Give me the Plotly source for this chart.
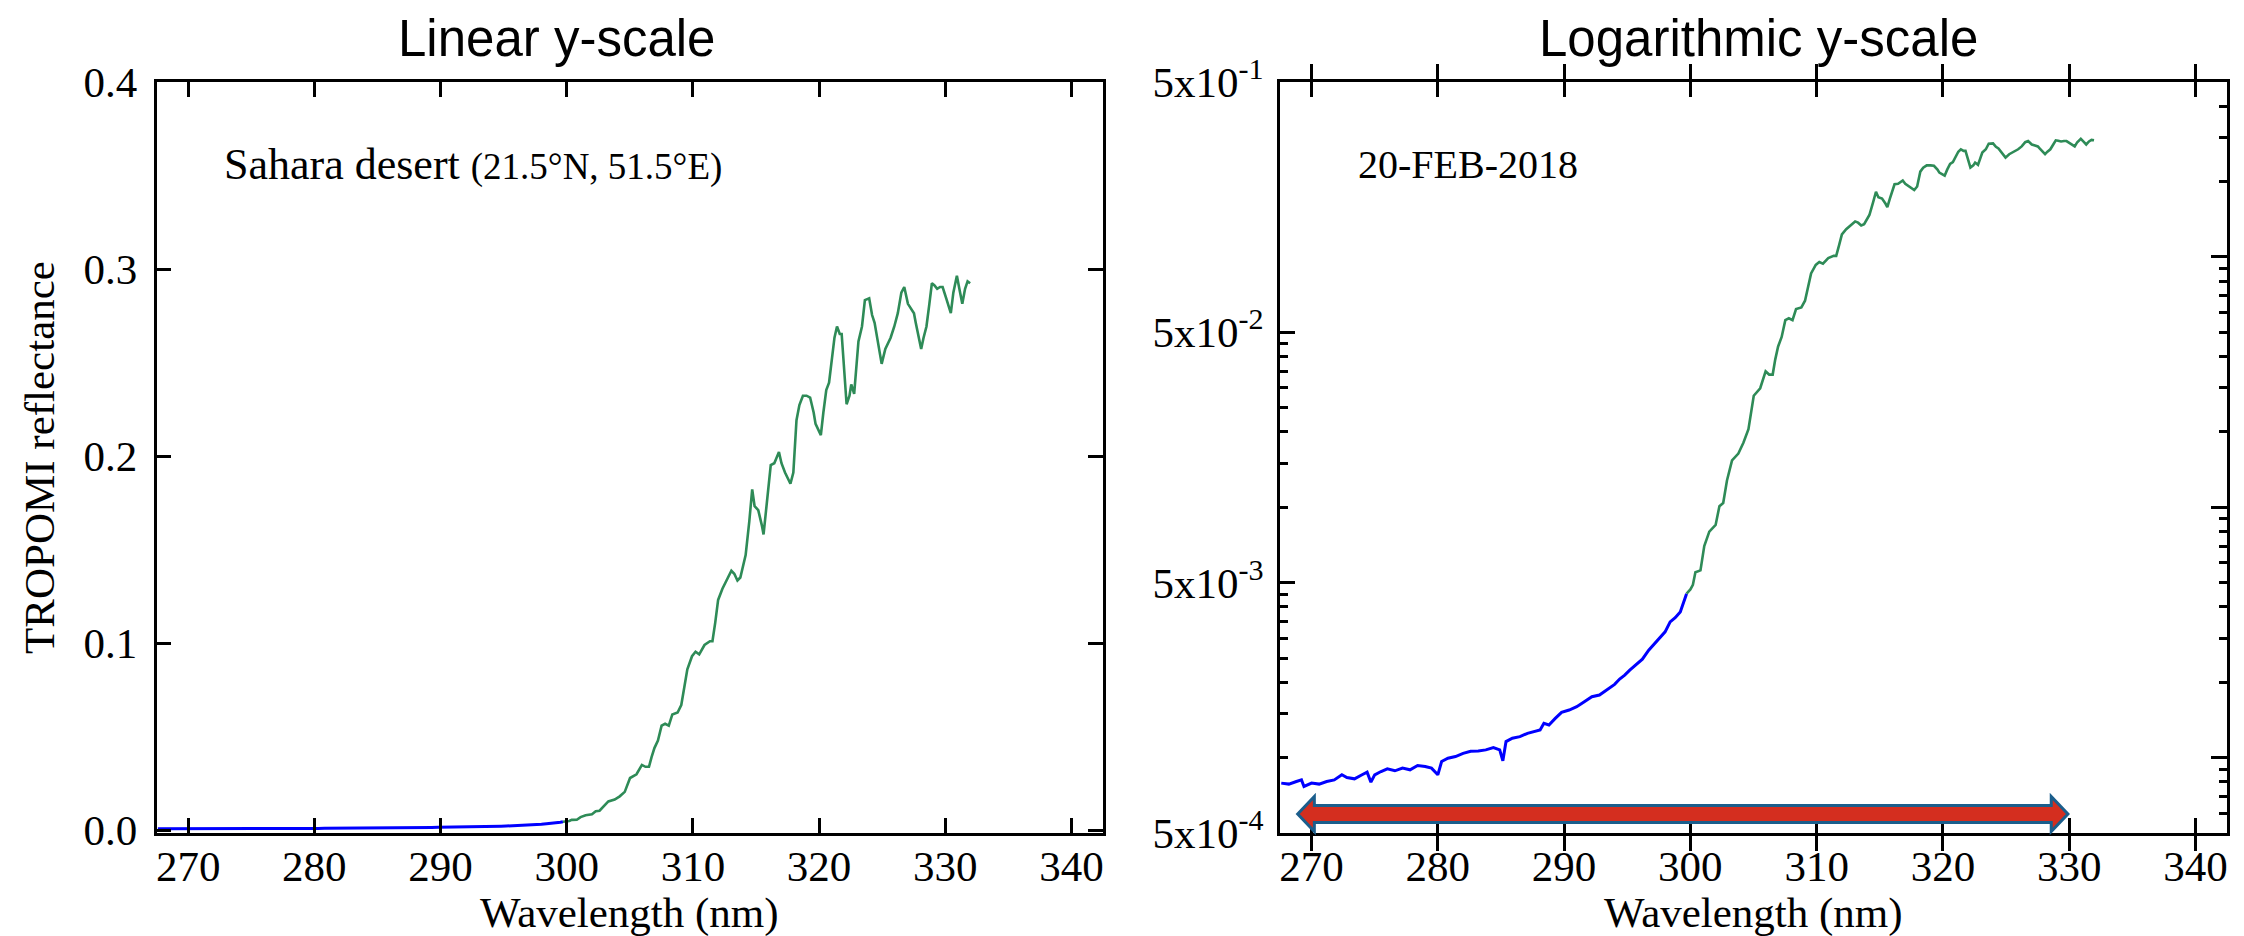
import numpy as np
import plotly.graph_objects as go

# ---------------- data ----------------
blue_wl = [267.6, 268.2, 268.8, 269.2, 269.4, 270.0, 270.6, 271.2, 271.8, 272.4, 272.8,
           273.4, 274.0, 274.4, 274.7, 275.0, 275.5, 276.0, 276.6, 277.2, 277.8, 278.4,
           279.0, 279.5, 280.0, 280.3, 280.8, 281.4, 282.0, 282.6, 283.2, 283.8, 284.4,
           284.9, 285.15, 285.4, 285.9, 286.5, 287.1, 287.7, 288.1, 288.4, 288.8, 289.3,
           289.8, 290.4, 291.0, 291.6, 292.2, 292.8, 293.4, 294.0, 294.4, 294.8, 295.2,
           295.7, 296.2, 296.7, 297.2, 297.6, 298.0, 298.4, 298.8, 299.2, 299.5, 299.7]
blue_refl = [7.91e-4, 7.84e-4, 8.03e-4, 8.15e-4, 7.67e-4, 7.91e-4, 7.84e-4, 8.03e-4,
             8.15e-4, 8.54e-4, 8.33e-4, 8.23e-4, 8.54e-4, 8.75e-4, 7.98e-4, 8.54e-4,
             8.80e-4, 9.02e-4, 8.86e-4, 9.08e-4, 8.94e-4, 9.30e-4, 9.22e-4, 9.08e-4,
             8.54e-4, 9.65e-4, 9.95e-4, 1.01e-3, 1.04e-3, 1.06e-3, 1.064e-3, 1.074e-3,
             1.097e-3, 1.074e-3, 9.71e-4, 1.159e-3, 1.195e-3, 1.213e-3, 1.251e-3, 1.278e-3,
             1.29e-3, 1.372e-3, 1.351e-3, 1.435e-3, 1.517e-3, 1.55e-3, 1.598e-3, 1.673e-3,
             1.752e-3, 1.779e-3, 1.862e-3, 1.962e-3, 2.06e-3, 2.137e-3, 2.237e-3, 2.357e-3,
             2.475e-3, 2.688e-3, 2.857e-3, 3.01e-3, 3.18e-3, 3.485e-3, 3.62e-3, 3.82e-3,
             4.25e-3, 4.52e-3]

green_wl = [299.7, 300.0, 300.2, 300.4, 300.8, 301.1, 301.5, 302.0, 302.3, 302.6, 302.9,
            303.3, 303.8, 304.2, 304.6,
            305.02, 305.53, 305.96, 306.24, 306.52, 306.72, 306.95, 307.23, 307.52, 307.80,
            308.09, 308.37, 308.79, 309.08, 309.36, 309.56, 309.93, 310.21, 310.50, 310.92,
            311.35, 311.55, 311.77, 312.00, 312.34, 312.62, 313.05, 313.28, 313.53, 313.76,
            313.99, 314.18, 314.47, 314.70, 314.89, 315.18, 315.46, 315.60, 315.80, 316.17,
            316.45, 316.82, 317.02, 317.30, 317.73, 317.96, 318.21, 318.44, 318.72, 319.01,
            319.29, 319.57, 319.72, 320.00, 320.14, 320.34, 320.57, 320.79, 320.99, 321.22,
            321.42, 321.64, 321.79, 321.99, 322.18, 322.41, 322.55, 322.78, 322.98, 323.12,
            323.40, 323.63, 323.97, 324.20, 324.40, 324.68, 324.96, 325.25, 325.67, 325.96,
            326.24, 326.52, 326.75, 327.04, 327.23, 327.52, 327.66, 327.94, 328.09, 328.28,
            328.51, 328.74, 328.94, 329.13, 329.36, 329.59, 329.79, 330.07, 330.44, 330.64,
            330.92, 331.12, 331.35, 331.57, 331.77, 331.97]
green_refl = [0.00452, 0.0047, 0.0049, 0.0055, 0.0056, 0.0070, 0.0080, 0.0085, 0.0101,
              0.0104, 0.0128, 0.0154, 0.0164, 0.0181, 0.0205,
              0.0279, 0.0299, 0.0349, 0.0339, 0.0339, 0.0389, 0.0439, 0.0479, 0.0559, 0.0569,
              0.0559, 0.0619, 0.0629, 0.0669, 0.0790, 0.0860, 0.0930, 0.0954, 0.0940, 0.0990,
              0.1010, 0.1010, 0.1110, 0.1231, 0.1291, 0.1331, 0.1387, 0.1371, 0.1335, 0.1351,
              0.1421, 0.1471, 0.1651, 0.1822, 0.1732, 0.1711, 0.1631, 0.1581, 0.1711, 0.1952,
              0.1962, 0.2022, 0.1962, 0.1912, 0.1852, 0.1912, 0.2192, 0.2273, 0.2323, 0.2323,
              0.2313, 0.2233, 0.2172, 0.2132, 0.2112, 0.2233, 0.2353, 0.2393, 0.2513, 0.2633,
              0.2693, 0.2653, 0.2653, 0.2453, 0.2277, 0.2323, 0.2383, 0.2333, 0.2513, 0.2613,
              0.2693, 0.2834, 0.2844, 0.2754, 0.2713, 0.2613, 0.2493, 0.2573, 0.2633, 0.2693,
              0.2764, 0.2874, 0.2904, 0.2814, 0.2794, 0.2764, 0.2713, 0.2623, 0.2573, 0.2633,
              0.2693, 0.2814, 0.2924, 0.2914, 0.2894, 0.2904, 0.2904, 0.2844, 0.2764, 0.2874,
              0.2964, 0.2894, 0.2814, 0.2894, 0.2934, 0.2924]

x_ticks = [270, 280, 290, 300, 310, 320, 330, 340]
lin_ticks = [0.0, 0.1, 0.2, 0.3, 0.4]
lin_labels = ["0.0", "0.1", "0.2", "0.3", "0.4"]
log_major = [5e-4, 5e-3, 5e-2, 5e-1]
log_labels = ["5x10<sup>-4</sup>", "5x10<sup>-3</sup>", "5x10<sup>-2</sup>", "5x10<sup>-1</sup>"]
arrow_start, arrow_end = 268.9, 329.9   # wavelength span marked by the red arrow

# ---------------- styling ----------------
W, H = 2244, 936
SERIF = "Liberation Serif, Times New Roman, serif"
SANS = "Liberation Sans, Arial, sans-serif"
BLUE = "#0000ff"
GREEN = "#2e8b57"

def px_x(p):
    return p / W

def px_y(p):
    return (H - p) / H

ydom = [px_y(825), px_y(74)]
xdom1 = [px_x(148.6), px_x(1095)]
xdom2 = [px_x(1272), px_x(2219)]

fig = go.Figure()
fig.add_trace(go.Scatter(x=blue_wl, y=blue_refl, mode="lines", line=dict(color=BLUE, width=3),
                         xaxis="x", yaxis="y", showlegend=False))
fig.add_trace(go.Scatter(x=green_wl, y=green_refl, mode="lines", line=dict(color=GREEN, width=2.6),
                         xaxis="x", yaxis="y", showlegend=False))
fig.add_trace(go.Scatter(x=blue_wl, y=blue_refl, mode="lines", line=dict(color=BLUE, width=3),
                         xaxis="x2", yaxis="y2", showlegend=False))
fig.add_trace(go.Scatter(x=green_wl, y=green_refl, mode="lines", line=dict(color=GREEN, width=2.6),
                         xaxis="x2", yaxis="y2", showlegend=False))
# invisible helper so the right-hand log tick axis is drawn
fig.add_trace(go.Scatter(x=green_wl[:1], y=green_refl[:1], mode="markers", marker=dict(opacity=0),
                         hoverinfo="skip", xaxis="x2", yaxis="y3", showlegend=False))

tickfont = dict(family=SERIF, size=43, color="black")
axis_common = dict(showline=True, linecolor="black", linewidth=2.5, showgrid=False, zeroline=False,
                   ticks="inside", tickcolor="black", tickwidth=2.5, automargin=False,
                   tickfont=tickfont)

xaxis_common = dict(axis_common, range=[267.5, 342.5], tickmode="array", tickvals=x_ticks,
                    ticklen=15, mirror="allticks", ticklabelstandoff=-6)

log_minor_left = [m * 10.0 ** e for e in (-4, -3, -2) for m in (1, 1.5, 2, 2.5, 3, 3.5, 4, 4.5)]
log_minor_left = [v for v in log_minor_left if 5e-4 < v < 0.5]
log_major_right = [1e-3, 1e-2, 1e-1]
log_minor_right = [m * 10.0 ** e for e in (-4, -3, -2, -1) for m in range(2, 10)]
log_minor_right = [v for v in log_minor_right if 5e-4 < v < 0.5]
log_range = [np.log10(5e-4), np.log10(0.5)]

fig.update_layout(
    width=W, height=H, paper_bgcolor="white", plot_bgcolor="white",
    margin=dict(l=0, r=0, t=0, b=0),
    xaxis=dict(xaxis_common, domain=xdom1, anchor="y"),
    yaxis=dict(axis_common, domain=ydom, anchor="x", range=[-0.0015, 0.4], tickmode="array",
               tickvals=lin_ticks, ticktext=lin_labels, ticklen=15, mirror="allticks",
               ticklabelstandoff=8,
               title=dict(text="TROPOMI reflectance", font=tickfont, standoff=16)),
    xaxis2=dict(xaxis_common, domain=xdom2, anchor="y2"),
    yaxis2=dict(axis_common, domain=ydom, anchor="x2", type="log", range=log_range,
                tickmode="array", tickvals=log_major, ticktext=log_labels, ticklen=15,
                mirror=True, ticklabelstandoff=5,
                minor=dict(tickmode="array", tickvals=log_minor_left, ticks="inside",
                           ticklen=8, tickwidth=2.5, tickcolor="black")),
    yaxis3=dict(overlaying="y2", side="right", anchor="x2", type="log", range=log_range,
                showline=False, showgrid=False, zeroline=False, showticklabels=False,
                tickmode="array", tickvals=log_major_right, ticks="inside", ticklen=16,
                tickwidth=2.5, tickcolor="black", automargin=False,
                minor=dict(tickmode="array", tickvals=log_minor_right, ticks="inside",
                           ticklen=8, tickwidth=2.5, tickcolor="black")),
)

# x-axis titles
for cx in ((148.6 + 1095) / 2, (1272 + 2219) / 2):
    fig.add_annotation(text="Wavelength (nm)", x=px_x(cx), y=px_y(905), xref="paper", yref="paper",
                       showarrow=False, font=tickfont, xanchor="center", yanchor="middle")

# panel titles and text labels
fig.add_annotation(text="Linear y-scale", x=px_x(548), y=px_y(31), xref="paper", yref="paper",
                   showarrow=False, font=dict(family=SANS, size=51, color="black"),
                   xanchor="center", yanchor="middle")
fig.add_annotation(text="Logarithmic y-scale", x=px_x(1750), y=px_y(31), xref="paper", yref="paper",
                   showarrow=False, font=dict(family=SANS, size=51, color="black"),
                   xanchor="center", yanchor="middle")
fig.add_annotation(text="Sahara desert <span style='font-size:37px'>(21.5°N, 51.5°E)</span>",
                   x=px_x(214), y=px_y(157), xref="paper", yref="paper", showarrow=False,
                   font=dict(family=SERIF, size=44, color="black"), xanchor="left", yanchor="middle")
fig.add_annotation(text="20-FEB-2018", x=px_x(1348), y=px_y(157), xref="paper", yref="paper",
                   showarrow=False, font=dict(family=SERIF, size=40, color="black"),
                   xanchor="left", yanchor="middle")

# double-headed arrow marking the wavelength range
head = 1.32
hh, sh = 17.5, 8.5
path = (f"M {arrow_start},0 L {arrow_start + head},{hh} L {arrow_start + head},{sh} "
        f"L {arrow_end - head},{sh} L {arrow_end - head},{hh} L {arrow_end},0 "
        f"L {arrow_end - head},{-hh} L {arrow_end - head},{-sh} L {arrow_start + head},{-sh} "
        f"L {arrow_start + head},{-hh} Z")
fig.add_shape(type="path", path=path, xref="x2", yref="paper", ysizemode="pixel",
              yanchor=px_y(806), fillcolor="#d42e1f", line=dict(color="#1b5e8c", width=3),
              layer="above")

fig.write_html("out.html")
